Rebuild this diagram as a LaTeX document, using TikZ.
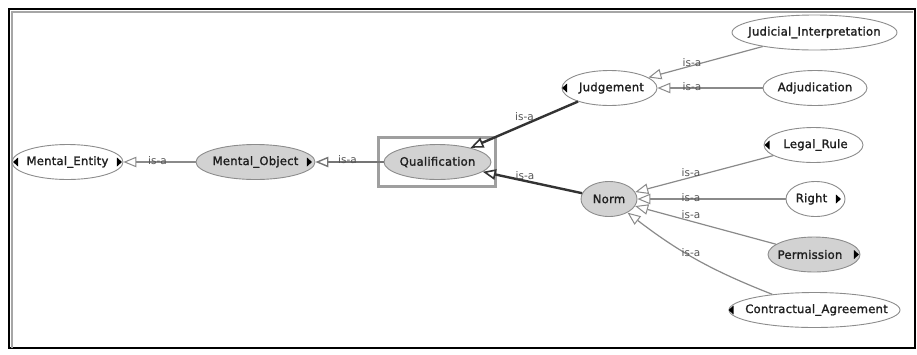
\documentclass[tikz,border=0pt]{standalone}
\usepackage{fontspec}
\setmainfont{DejaVu Sans}
\newfontfamily\nodefont[FakeBold=1.6,LetterSpace=2]{DejaVu Sans}
\usetikzlibrary{arrows.meta,shapes.geometric}
\definecolor{nodegray}{HTML}{D2D2D2}
\definecolor{rimgray}{HTML}{8C8C8C}
\definecolor{edgegray}{HTML}{8A8A8A}
\definecolor{darkedge}{HTML}{333333}
\definecolor{lblgray}{HTML}{555555}
\newcommand\zt[1]{\makebox[0pt][c]{#1}}
\tikzset{
  cls/.style={ellipse, draw=rimgray, line width=0.9pt, fill=white, inner sep=0pt,
    minimum height=35pt, font=\nodefont\fontsize{11.6}{12}\selectfont, text=black!88},
  clsg/.style={cls, fill=nodegray},
  isa/.style={draw=edgegray, line width=1.2pt,
    -{Triangle[open,length=13pt,width=10.5pt,fill=white,line width=1pt]}},
  isamid/.style={draw=edgegray!85!black, line width=2pt,
    -{Triangle[open,length=13pt,width=10.5pt,fill=white,line width=1.4pt]}},
  isadark/.style={draw=darkedge, line width=2.4pt,
    -{Triangle[open,length=13pt,width=10.5pt,fill=white,line width=1.6pt]}},
  lbl/.style={inner sep=0pt, font=\fontsize{10.5}{10.5}\selectfont, text=lblgray},
  expmark/.style={fill=black, draw=none}
}
\begin{document}
\begin{tikzpicture}[x=1pt,y=-1pt]
\useasboundingbox (0,0) rectangle (917,354);
% frame
\draw[black, line width=1.6pt] (8.8,8.8) rectangle (914.8,348.2);
\draw[gray!70, line width=1.4pt] (12,348) -- (12,12) -- (913,12);
% nodes
\node[cls, minimum width=111pt] (me) at (67.5,162) {\zt{Mental\_Entity}};
\node[clsg, minimum width=119pt] (mo) at (255.5,162) {\zt{Mental\_Object}};
\node[draw=gray!75, line width=3pt, minimum width=117pt, minimum height=49pt, inner sep=0pt] (hl) at (437,162) {};
\node[clsg, minimum width=107pt] (q) at (437.5,162) {\zt{Qualification}};
\node[cls, minimum width=95pt] (j) at (609.5,88) {\zt{\hspace{4pt}Judgement}};
\node[cls, minimum width=165pt] (ji) at (814.5,32.5) {\zt{Judicial\_Interpretation}};
\node[cls, minimum width=104pt] (ad) at (815,88) {\zt{Adjudication}};
\node[cls, minimum width=99pt] (lr) at (813.5,145) {\zt{\hspace{4pt}Legal\_Rule}};
\node[clsg, minimum width=56pt] (n) at (609,199) {\zt{Norm}};
\node[cls, minimum width=59pt] (r) at (815.5,199) {\zt{Right\hspace{8pt}}};
\node[clsg, minimum width=92pt] (p) at (814,254.5) {\zt{Permission\hspace{8pt}}};
\node[cls, minimum width=171pt] (ca) at (814.5,310) {\zt{\hspace{4pt}Contractual\_Agreement}};
% expand markers
\fill[expmark] (me.west) ++(1.5,0) -- ++(5,-4.5) -- ++(0,9) -- cycle;
\fill[expmark] (me.east) ++(-1.5,0) -- ++(-5,-4.5) -- ++(0,9) -- cycle;
\fill[expmark] (mo.east) ++(-3.5,0) -- ++(-5,-4.5) -- ++(0,9) -- cycle;
\fill[expmark] (j.west) ++(0.5,0) -- ++(5,-4.5) -- ++(0,9) -- cycle;
\fill[expmark] (lr.west) ++(1,0) -- ++(5,-4.5) -- ++(0,9) -- cycle;
\fill[expmark] (ca.west) ++(0,0) -- ++(5,-4.5) -- ++(0,9) -- cycle;
\fill[expmark] (r.east) ++(-4.5,0) -- ++(-5,-4.5) -- ++(0,9) -- cycle;
\fill[expmark] (p.east) ++(-1.5,0) -- ++(-5,-4.5) -- ++(0,9) -- cycle;
% edges
\draw[isa] (mo) -- (me);
\draw[isamid] (q) -- (mo);
\draw[isadark] (j) -- (q);
\draw[isadark] (n) -- (q);
\draw[isa] (ji) -- (j);
\draw[isa] (ad) -- (j);
\draw[isa] (lr) -- (n);
\draw[isa] (r) -- (n);
\draw[isa] (p) -- (n);
\draw[isa] (ca) to[bend left=8] (n);
% labels
\node[lbl] (l1) at (157.5,161) {is-a};
\node[lbl] (l2) at (347.5,160) {is-a};
\node[lbl] (l3) at (524.5,116.5) {is-a};
\node[lbl] (l4) at (525,175.5) {is-a};
\node[lbl] (l5) at (692,63) {is-a};
\node[lbl] (l6) at (692,87) {is-a};
\node[lbl] (l7) at (691,173) {is-a};
\node[lbl] (l8) at (691,197.5) {is-a};
\node[lbl] (l9) at (691,215) {is-a};
\node[lbl] (l10) at (691,252.5) {is-a};
\end{tikzpicture}
\end{document}
